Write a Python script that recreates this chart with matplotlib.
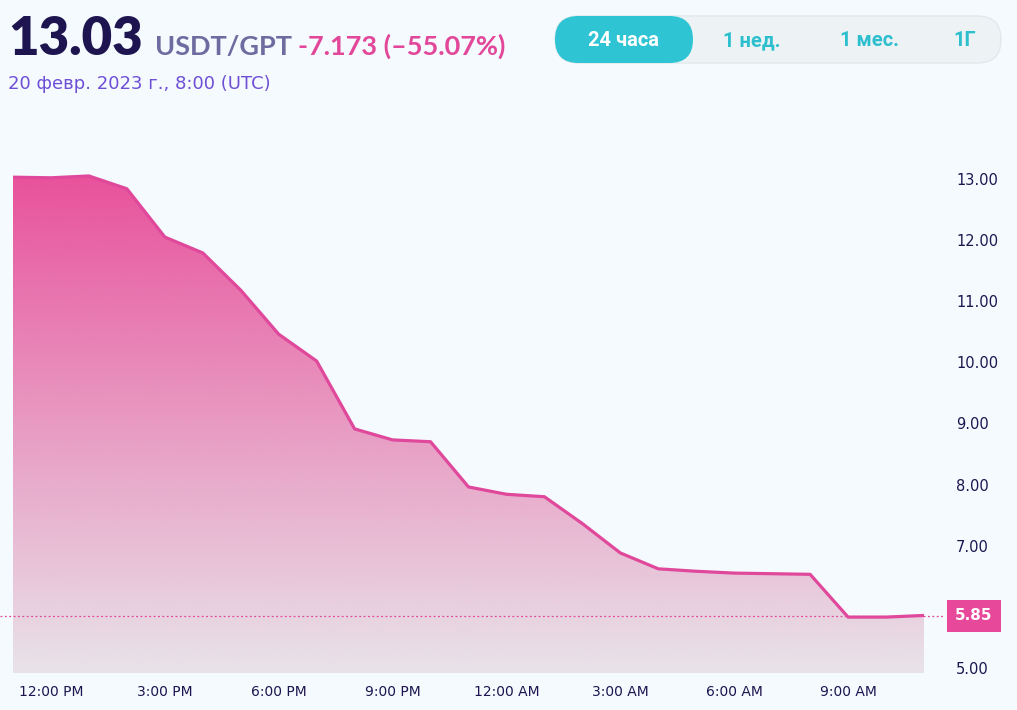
import numpy as np
import matplotlib
matplotlib.use("Agg")
import matplotlib.pyplot as plt
from matplotlib.colors import LinearSegmentedColormap
from matplotlib.patches import FancyBboxPatch
from matplotlib.transforms import blended_transform_factory

# hourly prices, 11:00 AM -> 11:00 AM next day
hours = np.arange(25)
price = [13.03, 13.02, 13.05, 12.84, 12.05, 11.79, 11.18, 10.46, 10.02,
         8.91, 8.73, 8.70, 7.96, 7.84, 7.80, 7.36, 6.88, 6.62, 6.58,
         6.55, 6.54, 6.53, 5.83, 5.83, 5.857]
xtick_pos = [1, 4, 7, 10, 13, 16, 19, 22]
xtick_labels = ["12:00 PM", "3:00 PM", "6:00 PM", "9:00 PM",
                "12:00 AM", "3:00 AM", "6:00 AM", "9:00 AM"]
ytick_vals = [5, 6, 7, 8, 9, 10, 11, 12, 13]
last_price = 5.85
periods = ["24 часа", "1 нед.", "1 мес.", "1Г"]

BG = "#f4fafd"
PINK = "#e0489b"
NAVY = "#1e1550"

W, H = 1017, 710
fig = plt.figure(figsize=(W / 100, H / 100), dpi=100, facecolor=BG)

# main chart axes (pixel layout: x 13..924, y 155..673)
ax = fig.add_axes([13 / W, (H - 673) / H, (924 - 13) / W, (673 - 155) / H])
ax.set_facecolor(BG)
ymin, ymax = 4.915, 13.393
ax.set_xlim(0, 24)
ax.set_ylim(ymin, ymax)

# gradient fill under the line
cmap = LinearSegmentedColormap.from_list("g", ["#e8e3e9", "#e8529c"])
grad = np.linspace(0, 1, 256).reshape(-1, 1)
im = ax.imshow(grad, extent=[0, 24, ymin, max(price)], origin="lower",
               aspect="auto", cmap=cmap, zorder=1)
poly = ax.fill_between(hours, price, ymin, color="none", lw=0)
im.set_clip_path(poly.get_paths()[0], transform=ax.transData)
ax.plot(hours, price, color=PINK, lw=2.3, solid_joinstyle="round", zorder=3)

# last price marker line + label
ax.axhline(last_price, xmin=-13 / 911, xmax=(945 - 13) / 911, color=PINK,
           lw=0.9, ls=(0, (1.5, 2)), clip_on=False, zorder=2)

for s in ax.spines.values():
    s.set_visible(False)
ax.set_xticks(xtick_pos, xtick_labels)
ax.set_yticks(ytick_vals, [f"{v:.2f}" for v in ytick_vals])
ax.yaxis.tick_right()
ax.tick_params(axis="x", length=0, pad=9, labelsize=10, labelcolor=NAVY)
ax.tick_params(axis="y", length=0, pad=23, labelsize=10.5, labelcolor=NAVY)

tr = blended_transform_factory(fig.transFigure, ax.transData)
ax.text(974 / W, last_price, f"{last_price:.2f}", transform=tr,
        ha="center", va="center", color="white", fontsize=11, fontweight="bold",
        bbox=dict(boxstyle="square,pad=0.55", fc="#e8489a", ec="none"),
        clip_on=False, zorder=5)

# header overlay in pixel coordinates
ov = fig.add_axes([0, 0, 1, 1], facecolor="none")
ov.set_xlim(0, W)
ov.set_ylim(H, 0)
ov.axis("off")

hdr = ["Lato", "Noto Sans", "DejaVu Sans"]
t1 = ov.text(8, 55, "13.03", fontsize=38, fontweight="heavy", color=NAVY,
             family=hdr, va="baseline")
fig.canvas.draw()
x2 = t1.get_window_extent().x1 + 12
t2 = ov.text(x2, 55, "USDT/GPT", fontsize=19.5, fontweight="bold",
             color="#6f6a9f", family=hdr, va="baseline")
fig.canvas.draw()
x3 = t2.get_window_extent().x1 + 6
ov.text(x3, 55, "-7.173 (–55.07%)", fontsize=19.5, fontweight="bold",
        color="#e2479a", family=hdr, va="baseline")
ov.text(8, 89, "20 февр. 2023 г., 8:00 (UTC)", fontsize=13, color="#6e4fd6",
        family=["DejaVu Sans"], va="baseline")

# period selector
ov.add_patch(FancyBboxPatch((555, 16), 446, 47,
                            boxstyle="round,pad=0,rounding_size=23.5",
                            fc="#edf3f5", ec="#e2e9ec", lw=1))
ov.add_patch(FancyBboxPatch((555, 16), 138, 47,
                            boxstyle="round,pad=0,rounding_size=23.5",
                            fc="#2ec4d3", ec="none"))
btn_x = [623, 752, 869, 965]
for i, (lab, bx) in enumerate(zip(periods, btn_x)):
    ov.text(bx, 41, lab, ha="center", va="center", fontsize=14.5,
            fontweight="bold", family=["Roboto", "DejaVu Sans"],
            color="white" if i == 0 else "#2ebfcf")

fig.savefig("out.png", dpi=100, facecolor=BG)
